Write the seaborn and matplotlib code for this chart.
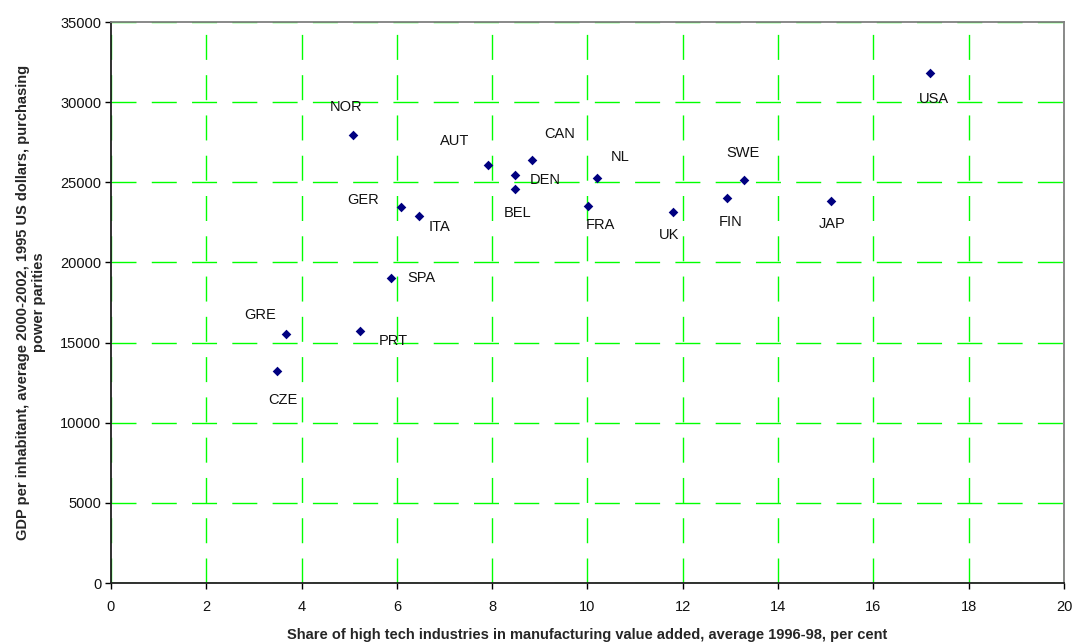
import numpy as np
import pandas as pd
import matplotlib
matplotlib.use("Agg")
import matplotlib.pyplot as plt
import seaborn as sns

# data
countries = ["NOR", "USA", "AUT", "CAN", "DEN", "BEL", "NL", "SWE", "FIN", "JAP",
             "FRA", "UK", "GER", "ITA", "SPA", "PRT", "GRE", "CZE"]
high_tech_share = [5.07, 17.18, 7.91, 8.83, 8.48, 8.48, 10.19, 13.28, 12.93, 15.12,
                   10.02, 11.79, 6.08, 6.47, 5.88, 5.23, 3.68, 3.48]
gdp_per_inhabitant = [27960, 31790, 26080, 26380, 25470, 24580, 25290, 25130, 24000, 23850,
                      23500, 23140, 23470, 22910, 19000, 15730, 15540, 13230]

# label offsets in pixels (right, up) relative to the marker
label_offsets = {
    "NOR": (-6, 28), "USA": (4, -26), "AUT": (-33, 24), "CAN": (28, 26),
    "DEN": (30, -5), "BEL": (3, -24), "NL": (24, 21), "SWE": (-1, 27),
    "FIN": (4, -24), "JAP": (1, -23), "FRA": (12, -19), "UK": (-4, -23),
    "GER": (-38, 7), "ITA": (20, -11), "SPA": (30, 0), "PRT": (33, -10),
    "GRE": (-26, 19), "CZE": (6, -29),
}

df = pd.DataFrame({"country": countries, "share": high_tech_share, "gdp": gdp_per_inhabitant})

sns.set_theme(style="white")
plt.rcParams["font.family"] = ["Liberation Sans", "DejaVu Sans"]
plt.rcParams["lines.scale_dashes"] = False

fig = plt.figure(figsize=(10.72, 6.44), dpi=100)
ax = fig.add_axes([0.1035, 0.0947, 0.8890, 0.8711])

sns.scatterplot(data=df, x="share", y="gdp", marker="D", color="#000080",
                edgecolor="#000080", s=24, linewidth=0, ax=ax, zorder=3)

for name, x, y in zip(countries, high_tech_share, gdp_per_inhabitant):
    dx, dy = label_offsets[name]
    ax.annotate(name, (x, y), xytext=(dx, dy), textcoords="offset pixels",
                ha="center", va="center", fontsize=10.5, color="#111111")

ax.set_xlim(0, 20)
ax.set_ylim(0, 35000)
ax.set_xticks(np.arange(0, 21, 2))
ax.set_yticks(np.arange(0, 35001, 5000))
ax.grid(True, color="#00ff00", linewidth=1, linestyle=(0, (18, 11)))

for side in ["left", "bottom"]:
    ax.spines[side].set_color("#202020")
    ax.spines[side].set_linewidth(1.3)
for side in ["top", "right"]:
    ax.spines[side].set_color("#808080")
    ax.spines[side].set_linewidth(1.3)

ax.tick_params(axis="both", direction="out", length=4, width=1, color="#000000",
               labelsize=10.5, labelcolor="#111111", left=True, bottom=True)
ax.tick_params(axis="x", pad=8)
ax.tick_params(axis="y", pad=3)

ax.set_xlabel("Share of high tech industries in manufacturing value added, average 1996-98, per cent",
              fontsize=10.5, fontweight="bold", labelpad=10)
ax.set_ylabel("GDP per inhabitant, average 2000-2002, 1995 US dollars, purchasing\npower parities",
              fontsize=10.5, fontweight="bold", labelpad=10)

fig.savefig("out.png", dpi=100)
